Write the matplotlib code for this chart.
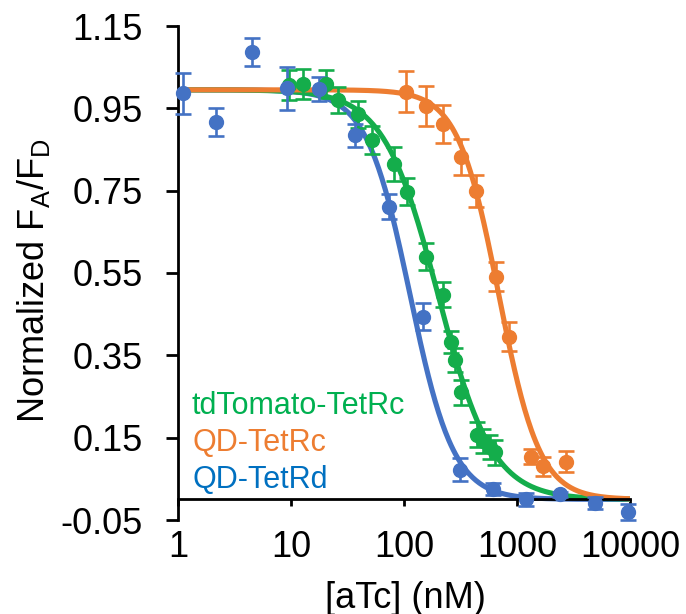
import numpy as np
import matplotlib
matplotlib.use("Agg")
import matplotlib.pyplot as plt
from matplotlib.ticker import NullLocator

rd_x = [1.1, 2.17, 4.53, 9.28, 17.8, 36.5, 73, 146, 310, 610, 1200, 2400, 4900, 9600]
rd_y = [0.987, 0.917, 1.087, 0.999, 0.997, 0.885, 0.711, 0.444, 0.072, 0.026, 0.0, 0.012, -0.008, -0.03]
rd_err = [0.05, 0.033, 0.033, 0.052, 0.03, 0.028, 0.03, 0.033, 0.028, 0.015, 0.016, 0.005, 0.015, 0.02]

td_x = [9.6, 12.8, 20.2, 26.3, 39.5, 52.6, 82.4, 107, 158, 220, 260, 285, 317, 440, 500, 574, 636]
td_y = [1.007, 1.009, 1.009, 0.97, 0.936, 0.873, 0.815, 0.747, 0.59, 0.497, 0.382, 0.339, 0.26, 0.157, 0.142, 0.127, 0.114]
td_err = [0.036, 0.036, 0.034, 0.032, 0.033, 0.035, 0.041, 0.033, 0.033, 0.03, 0.027, 0.03, 0.03, 0.03, 0.03, 0.03, 0.03]

rc_x = [105, 158, 220, 317, 437, 650, 845, 1320, 1690, 2700]
rc_y = [0.99, 0.956, 0.912, 0.832, 0.75, 0.541, 0.395, 0.104, 0.08, 0.092]
rc_err = [0.05, 0.048, 0.045, 0.043, 0.039, 0.035, 0.035, 0.018, 0.024, 0.025]

# 4PL fit parameters: top, bottom, IC50 (nM), hill
rd_fit = [0.995, 0.0, 113, 2.25]
td_fit = [0.995, 0.0, 200, 1.8]
rc_fit = [0.995, 0.0, 690, 2.4]

xticks = [1, 10, 100, 1000, 10000]
xtick_labels = ["1", "10", "100", "1000", "10000"]
yticks = [-0.05, 0.15, 0.35, 0.55, 0.75, 0.95, 1.15]
ytick_labels = ["-0.05", "0.15", "0.35", "0.55", "0.75", "0.95", "1.15"]

BLUE = "#4472C4"
ORANGE = "#ED7D31"
GREEN = "#14AD4B"


def four_pl(x, top, bottom, ic50, hill):
    return bottom + (top - bottom) / (1.0 + (x / ic50) ** hill)


def main():
    plt.rcParams.update({
        "font.family": ["Liberation Sans", "DejaVu Sans"],
        "mathtext.default": "regular",
        "axes.unicode_minus": False,
    })
    W, H = 686, 614
    fig = plt.figure(figsize=(W / 100, H / 100), dpi=100)
    ax = fig.add_axes([178 / W, 1 - 520 / H, (630 - 178) / W, (520 - 26) / H])

    xs = np.logspace(0, 4, 400)
    for fit, color in ((rd_fit, BLUE), (td_fit, GREEN), (rc_fit, ORANGE)):
        ax.plot(xs, four_pl(xs, *fit), color=color, lw=3.7, zorder=2, solid_capstyle="butt")

    for x, y, e, color in ((rc_x, rc_y, rc_err, ORANGE), (td_x, td_y, td_err, GREEN),
                           (rd_x, rd_y, rd_err, BLUE)):
        ax.errorbar(x, y, yerr=e, fmt="o", color=color, ms=10, elinewidth=1.9,
                    capsize=6, capthick=1.9, zorder=3, clip_on=False)

    ax.set_xscale("log")
    ax.set_xlim(1, 10000)
    ax.set_ylim(-0.05, 1.15)
    ax.spines["top"].set_visible(False)
    ax.spines["right"].set_visible(False)
    ax.spines["bottom"].set_position(("data", 0))
    for s in ("left", "bottom"):
        ax.spines[s].set_linewidth(2.0)
    ax.set_xticks(xticks)
    ax.set_xticklabels(xtick_labels)
    ax.xaxis.set_minor_locator(NullLocator())
    ax.set_yticks(yticks)
    ax.set_yticklabels(ytick_labels)
    ax.tick_params(axis="x", direction="out", length=5, width=2.0, pad=17, labelsize=26)
    ax.tick_params(axis="y", direction="out", length=9, width=2.0, pad=16.5, labelsize=26)

    fig.text(34 / W, 1 - 281 / H, "Normalized F$_A$/F$_D$", rotation=90,
             ha="center", va="center", fontsize=26)
    fig.text(405 / W, 1 - 598 / H, "[aTc] (nM)", ha="center", va="center", fontsize=26)

    fig.text(192 / W, 1 - 406 / H, "tdTomato-TetRc", color="#00B050", fontsize=22, va="center")
    fig.text(192 / W, 1 - 443 / H, "QD-TetRc", color=ORANGE, fontsize=22, va="center")
    fig.text(192 / W, 1 - 480 / H, "QD-TetRd", color="#0070C0", fontsize=22, va="center")

    fig.savefig("out.png", dpi=100)
    plt.close(fig)


if __name__ == "__main__":
    main()
